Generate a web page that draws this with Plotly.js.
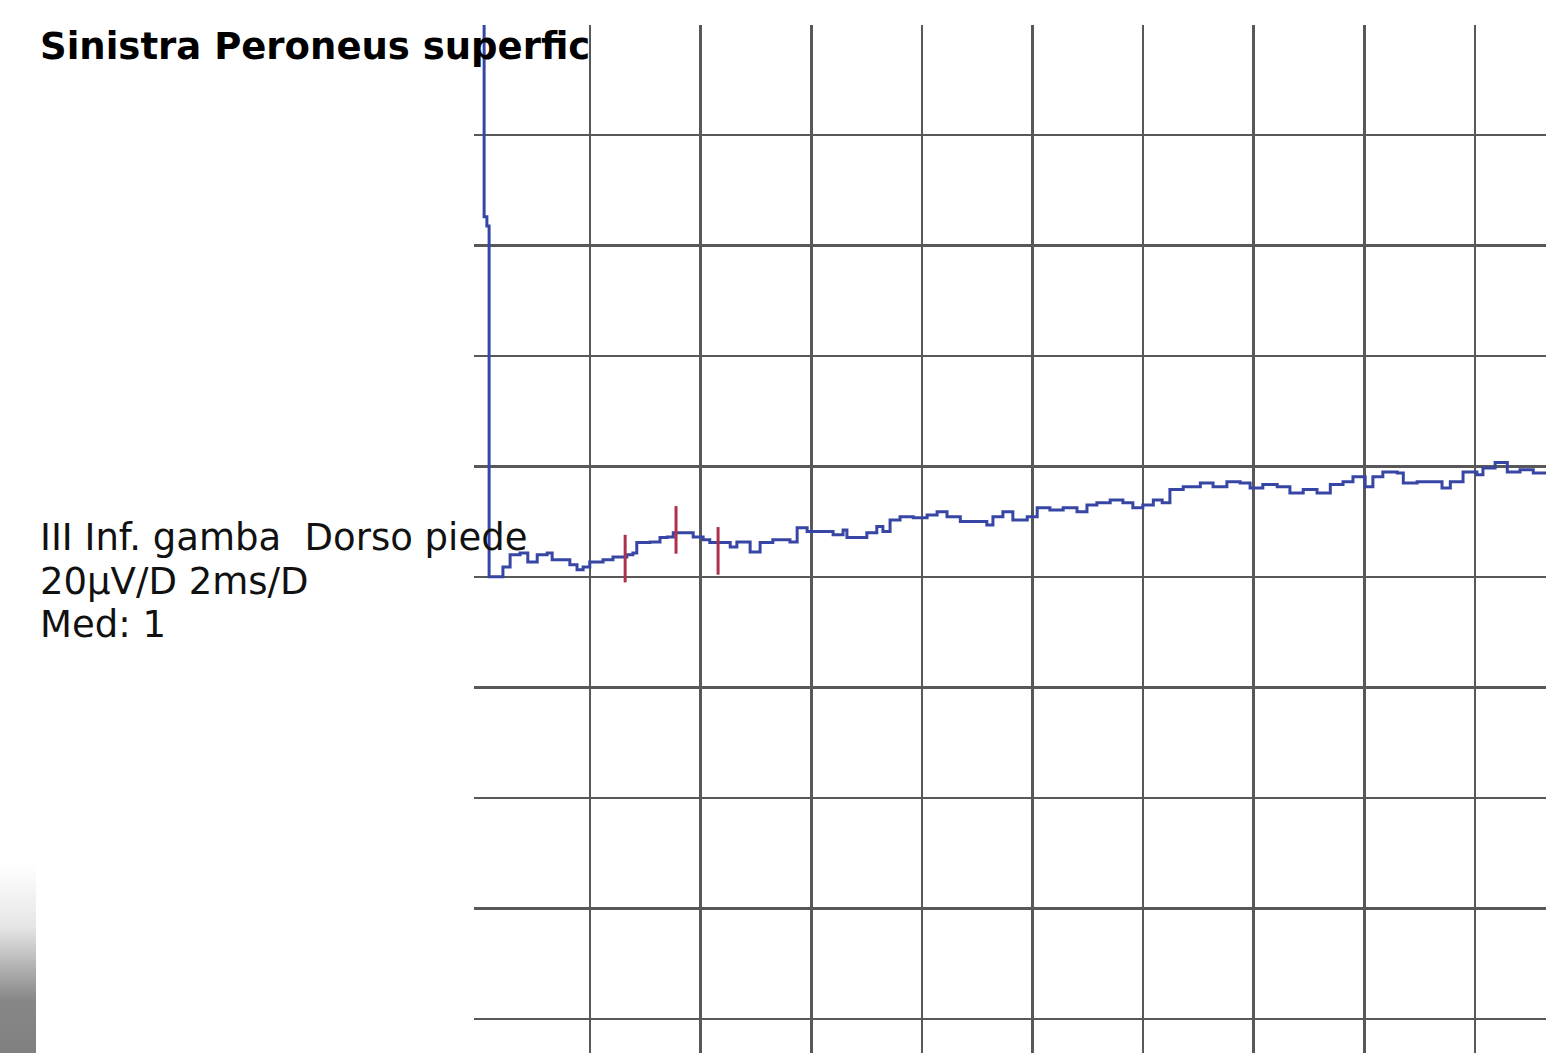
<!DOCTYPE html>
<html>
<head>
<meta charset="utf-8">
<script src="https://cdn.plot.ly/plotly-3.0.1.min.js"></script>
<style>
  html, body { margin: 0; padding: 0; background: #ffffff; }
  #wrap { position: relative; width: 1546px; height: 1053px; overflow: hidden; }
  #strip { position: absolute; left: 0; top: 0; width: 36px; height: 1053px;
    background: linear-gradient(to bottom, #ffffff 0%, #ffffff 82%, #e6e6e6 88%, #b0b0b0 92%, #878787 95%, #808080 100%); }
  #chart { position: absolute; left: 0; top: 0; width: 1546px; height: 1053px; }
</style>
</head>
<body>
<div id="wrap"><div id="strip"></div><div id="chart"></div></div>
<script>
// Time (ms) and amplitude (µV) of the recorded response
const timeMs = [-0.09, -0.07, -0.02, 0.02, 0.09, 0.27, 0.40, 0.58, 0.72, 0.89,
  1.07, 1.16, 1.30, 1.48, 1.61, 1.72, 1.84, 2.08, 2.26, 2.51,
  2.62, 2.69, 2.93, 3.11, 3.24, 3.35, 3.53, 3.71, 3.89, 4.01,
  4.25, 4.38, 4.50, 4.74, 4.92, 5.15, 5.46, 5.59, 5.77, 6.00,
  6.24, 6.42, 6.49, 6.73, 6.85, 7.03, 7.14, 7.27, 7.45, 7.69,
  7.94, 8.12, 8.30, 8.54, 8.84, 9.02, 9.13, 9.31, 9.49, 9.75,
  9.93, 10.16, 10.40, 10.65, 10.83, 11.01, 11.25, 11.48, 11.66, 11.84,
  12.03, 12.19, 12.33, 12.57, 12.88, 13.11, 13.36, 13.60, 13.78, 14.01,
  14.27, 14.50, 14.74, 14.99, 15.23, 15.46, 15.64, 15.86, 16.00, 16.18,
  16.44, 16.55, 16.80, 17.03, 17.25, 17.40, 17.63, 17.88, 17.99, 18.21,
  18.43, 18.66, 18.90, 19.13];
const amplitudeUv = [101, 65.2, 63.5, 0, 0, 1.8, 4.0, 4.3, 2.7, 4.0,
  4.3, 3.1, 3.1, 2.2, 1.3, 1.8, 2.7, 3.1, 3.6, 4.0,
  4.3, 6.2, 6.3, 7.1, 7.2, 8.0, 8.0, 7.2, 6.7, 6.2,
  6.2, 5.4, 6.3, 4.5, 6.2, 6.7, 6.3, 8.9, 8.2, 8.2,
  7.6, 8.5, 7.1, 7.1, 8.0, 9.1, 8.2, 10.3, 10.9, 10.7,
  11.2, 11.8, 10.9, 10.0, 10.0, 9.4, 10.9, 11.8, 10.3, 10.9,
  12.5, 12.1, 12.5, 11.8, 13.0, 13.4, 13.9, 13.4, 12.5, 13.0,
  13.9, 13.4, 15.8, 16.3, 17.0, 16.3, 17.2, 17.0, 16.1, 16.7,
  16.3, 15.2, 15.8, 15.2, 16.7, 17.2, 18.1, 16.3, 18.1, 19.0,
  18.8, 17.0, 17.2, 17.2, 16.1, 17.2, 19.0, 18.5, 19.7, 20.7,
  19.0, 19.4, 18.8, 19.0];

// Cursor markers (latency ms, amplitude µV)
const markerMs = [2.48, 3.40, 4.16];
const markerUv = [3.3, 8.5, 4.7];

// Annotation texts
const titleText = "Sinistra Peroneus superfic";
const infoLines = ["III Inf. gamba  Dorso piede", "20µV/D 2ms/D", "Med: 1"];

// Scale: 2 ms per division, 20 µV per division
const msPerDiv = 2;
const uvPerDiv = 20;
const gridStartMs = 1.845;
const xRange = [-0.253, 19.13];
const yRange = [-86.2, 99.9];

const xGrid = [];
for (let v = gridStartMs; v <= xRange[1]; v += msPerDiv) xGrid.push(v);

const traceColor = "#3746a4";
const gridColor = "#585858";

const data = [
  {
    x: timeMs, y: amplitudeUv, type: "scatter", mode: "lines",
    line: { color: traceColor, width: 3, shape: "hv" }, hoverinfo: "skip"
  },
  {
    x: markerMs, y: markerUv, type: "scatter", mode: "markers",
    marker: { symbol: "line-ns", size: 34, line: { color: "#b02f4c", width: 3 } },
    hoverinfo: "skip"
  }
];

const plotL = 474, plotT = 25, W = 1546, H = 1053;
const pw = W - plotL, ph = H - plotT;
function px(xp) { return (xp - plotL) / pw; }
function py(yp) { return (H - yp) / ph; }

const annFont = { family: "DejaVu Sans, Verdana, sans-serif", size: 37, color: "#111111" };
const annotations = [
  { xref: "paper", yref: "paper", x: px(38), y: py(46), xanchor: "left", yanchor: "middle",
    text: "<b>" + titleText + "</b>", showarrow: false,
    font: { family: "DejaVu Sans, Verdana, sans-serif", size: 37, color: "#000000" } }
];
const lineY = [537, 581, 625];
infoLines.forEach((t, i) => {
  annotations.push({ xref: "paper", yref: "paper", x: px(38), y: py(lineY[i]),
    xanchor: "left", yanchor: "middle", text: t, showarrow: false, font: annFont });
});

const layout = {
  width: W, height: H,
  margin: { l: plotL, r: 0, t: plotT, b: 0, pad: 0 },
  paper_bgcolor: "rgba(0,0,0,0)", plot_bgcolor: "rgba(0,0,0,0)",
  showlegend: false,
  xaxis: {
    range: xRange, tickmode: "array", tickvals: xGrid, showticklabels: false, ticks: "",
    showgrid: true, gridcolor: gridColor, gridwidth: 2.5, zeroline: false, showline: false, fixedrange: true
  },
  yaxis: {
    range: yRange, tick0: 0, dtick: uvPerDiv, showticklabels: false, ticks: "",
    showgrid: true, gridcolor: gridColor, gridwidth: 2.5,
    zeroline: true, zerolinecolor: gridColor, zerolinewidth: 2.5, showline: false, fixedrange: true
  },
  annotations: annotations
};

Plotly.newPlot("chart", data, layout, { displayModeBar: false, staticPlot: true });
</script>
</body>
</html>
